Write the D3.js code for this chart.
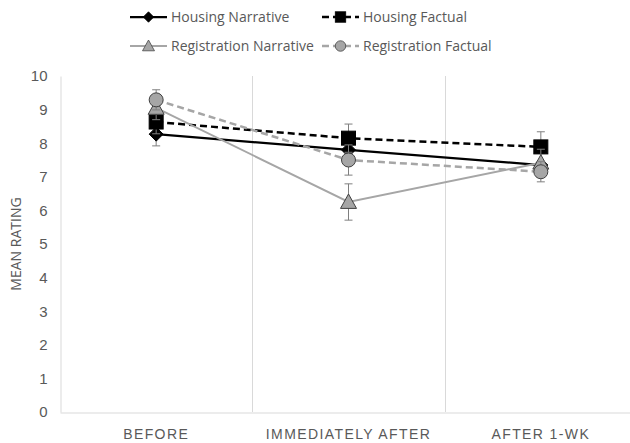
<!DOCTYPE html>
<html>
<head>
<meta charset="utf-8">
<script src="https://cdn.jsdelivr.net/npm/d3@7/dist/d3.min.js"></script>
<style>
  html, body { margin: 0; padding: 0; background: #fff; }
  svg { display: block; font-family: "Open Sans", "Noto Sans", sans-serif; }
</style>
</head>
<body>
<svg id="chart" width="630" height="443"></svg>
<script>
// Time points on the x axis
const categories = ["BEFORE", "IMMEDIATELY AFTER", "AFTER 1-WK"];
const yTicks = [0, 1, 2, 3, 4, 5, 6, 7, 8, 9, 10];

// Mean ratings per condition
const housingNarrative = [8.27, 7.80, 7.35];
const housingFactual = [8.63, 8.15, 7.89];
const registrationNarrative = [9.05, 6.25, 7.42];
const registrationFactual = [9.29, 7.50, 7.15];

// Error bar half-widths (±)
const housingNarrativeErr = [0.35, 0.40, 0.35];
const housingFactualErr = [0.35, 0.42, 0.45];
const registrationNarrativeErr = [0.35, 0.54, 0.40];
const registrationFactualErr = [0.30, 0.45, 0.30];

const series = [
  { name: "Housing Narrative", values: housingNarrative, err: housingNarrativeErr,
    color: "#000000", dash: null, marker: "diamond", fill: "#000000", stroke: "#000000", width: 2.25 },
  { name: "Housing Factual", values: housingFactual, err: housingFactualErr,
    color: "#000000", dash: "7,4", marker: "square", fill: "#000000", stroke: "#000000", width: 2.5 },
  { name: "Registration Narrative", values: registrationNarrative, err: registrationNarrativeErr,
    color: "#a6a6a6", dash: null, marker: "triangle", fill: "#a6a6a6", stroke: "#404040", width: 2 },
  { name: "Registration Factual", values: registrationFactual, err: registrationFactualErr,
    color: "#a6a6a6", dash: "7,4", marker: "circle", fill: "#a6a6a6", stroke: "#404040", width: 2.5 }
];

const svg = d3.select("#chart");
const plot = { left: 60, right: 637, top: 76, bottom: 412 };

const x = d3.scaleBand().domain(categories).range([plot.left, plot.right]);
const y = d3.scaleLinear().domain([0, 10]).range([plot.bottom, plot.top]);
const cx = c => x(c) + x.bandwidth() / 2;

const gridColor = "#d9d9d9";
const textColor = "#595959";

// Category separators
svg.append("g").selectAll("line")
  .data(categories.slice(1))
  .join("line")
  .attr("x1", d => Math.round(x(d)) + 0.5).attr("x2", d => Math.round(x(d)) + 0.5)
  .attr("y1", plot.top).attr("y2", plot.bottom)
  .attr("stroke", gridColor).attr("stroke-width", 1);

// Y axis
const yAxis = svg.append("g")
  .attr("transform", `translate(${plot.left + 0.5},0)`)
  .call(d3.axisLeft(y).tickValues(yTicks).tickSize(0).tickPadding(13).tickFormat(d3.format("d")));
yAxis.select(".domain").attr("stroke", gridColor);
yAxis.selectAll("text").attr("fill", textColor).style("font-size", "15px");

// X axis
const xAxis = svg.append("g")
  .attr("transform", `translate(0,${plot.bottom + 0.5})`)
  .call(d3.axisBottom(x).tickSize(0).tickPadding(17));
xAxis.select(".domain").attr("stroke", gridColor);
xAxis.selectAll("text").attr("fill", textColor).style("font-size", "14px")
  .style("letter-spacing", "1.4px");

// Axis title
svg.append("text")
  .attr("transform", `translate(21,${(plot.top + plot.bottom) / 2}) rotate(-90)`)
  .attr("text-anchor", "middle")
  .attr("fill", textColor)
  .style("font-size", "14px")
  .text("MEAN RATING");

const line = d3.line().x((d, i) => cx(categories[i])).y(d => y(d));

function drawMarker(g, type, px, py, fill, stroke) {
  if (type === "diamond") {
    const s = 7;
    g.append("path").attr("d", `M${px},${py - s}L${px + s},${py}L${px},${py + s}L${px - s},${py}Z`)
      .attr("fill", fill).attr("stroke", stroke).attr("stroke-width", 1);
  } else if (type === "square") {
    const s = 7;
    g.append("rect").attr("x", px - s).attr("y", py - s).attr("width", 2 * s).attr("height", 2 * s)
      .attr("fill", fill).attr("stroke", stroke).attr("stroke-width", 1);
  } else if (type === "triangle") {
    const s = 8;
    g.append("path").attr("d", `M${px},${py - s}L${px + s},${py + s * 0.8}L${px - s},${py + s * 0.8}Z`)
      .attr("fill", fill).attr("stroke", stroke).attr("stroke-width", 1);
  } else {
    g.append("circle").attr("cx", px).attr("cy", py).attr("r", 7)
      .attr("fill", fill).attr("stroke", stroke).attr("stroke-width", 1);
  }
}

// Series: error bars, lines, markers
series.forEach(s => {
  const g = svg.append("g");
  s.values.forEach((v, i) => {
    const px = cx(categories[i]);
    const lo = y(v - s.err[i]), hi = y(v + s.err[i]);
    g.append("line").attr("x1", px).attr("x2", px).attr("y1", lo).attr("y2", hi)
      .attr("stroke", "#7f7f7f").attr("stroke-width", 1);
    [lo, hi].forEach(yy => g.append("line")
      .attr("x1", px - 4).attr("x2", px + 4).attr("y1", yy).attr("y2", yy)
      .attr("stroke", "#7f7f7f").attr("stroke-width", 1));
  });
  g.append("path").datum(s.values).attr("d", line)
    .attr("fill", "none").attr("stroke", s.color).attr("stroke-width", s.width)
    .attr("stroke-dasharray", s.dash);
  s.values.forEach((v, i) => drawMarker(g, s.marker, cx(categories[i]), y(v), s.fill, s.stroke));
});

// Legend
const legendPos = [[130, 17], [322, 17], [130, 46], [322, 46]];
series.forEach((s, i) => {
  const [lx, ly] = legendPos[i];
  const g = svg.append("g");
  g.append("line").attr("x1", lx).attr("x2", lx + 37).attr("y1", ly).attr("y2", ly)
    .attr("stroke", s.color).attr("stroke-width", s.width).attr("stroke-dasharray", s.dash);
  const m = g.append("g");
  drawMarker(m, s.marker, lx + 18.5, ly, s.fill, s.stroke);
  m.attr("transform", `translate(${lx + 18.5},${ly}) scale(0.75) translate(${-(lx + 18.5)},${-ly})`);
  g.append("text").attr("x", lx + 41).attr("y", ly).attr("dy", "0.35em")
    .attr("fill", textColor).style("font-size", "14px").text(s.name);
});
</script>
</body>
</html>
